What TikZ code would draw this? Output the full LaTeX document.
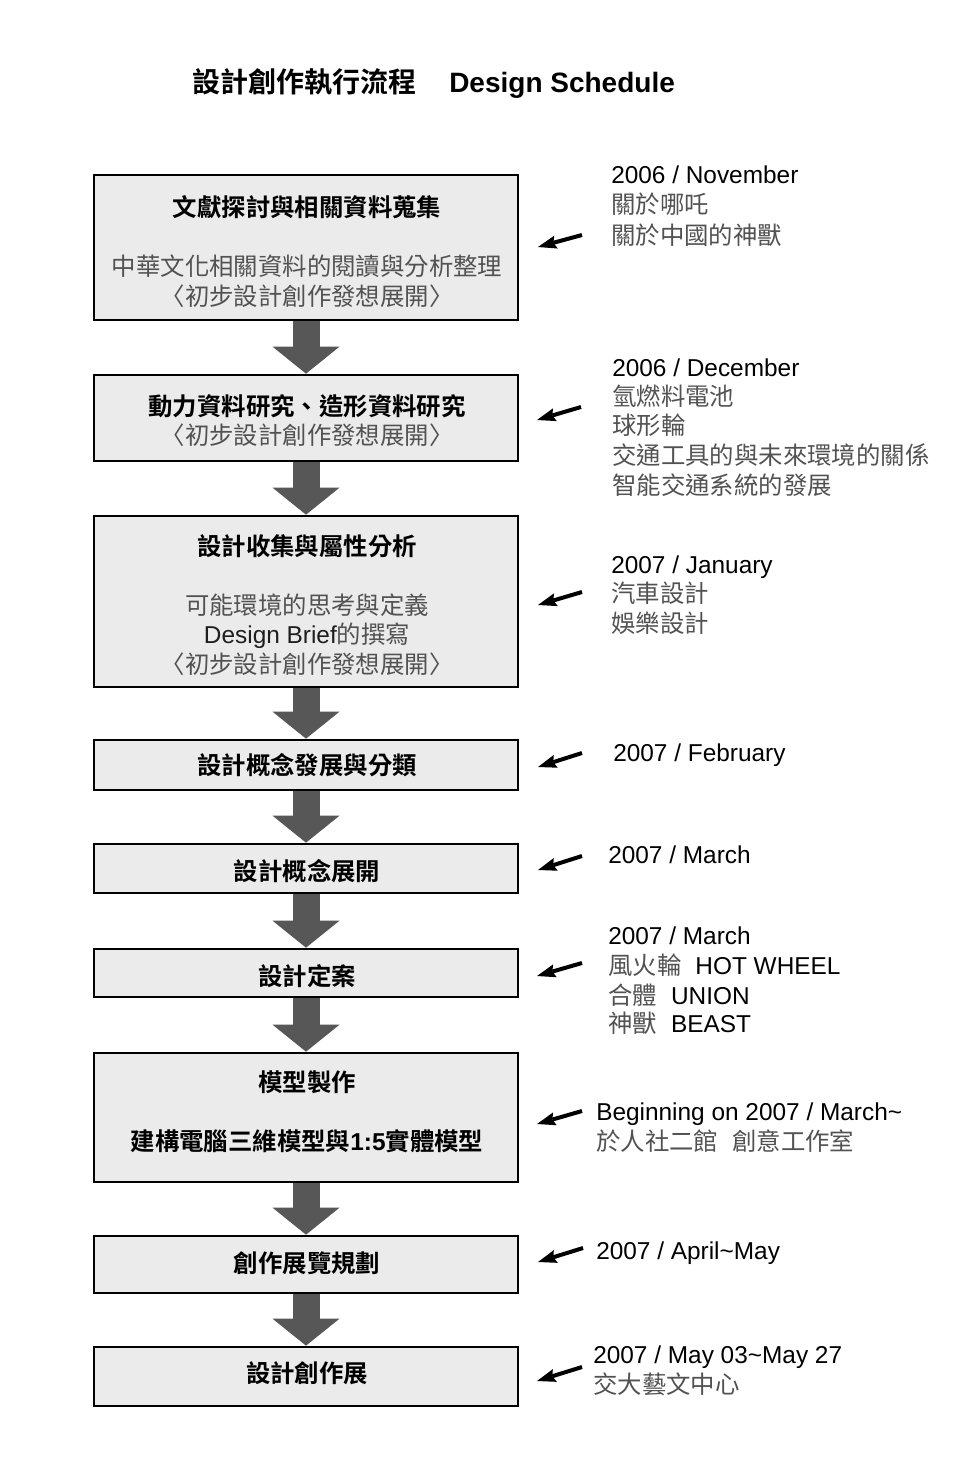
\documentclass[tikz,border=0pt]{standalone}
\usepackage{fontspec}
\setmainfont{Liberation Sans}
\newfontfamily\cjk{Noto Sans CJK TC}[BoldFont={Noto Sans CJK TC Bold}]
\usetikzlibrary{arrows.meta,backgrounds}
\definecolor{boxfill}{HTML}{EBEBEB}
\definecolor{txtgray}{HTML}{525252}
\definecolor{arrgray}{HTML}{575757}
\definecolor{darktxt}{HTML}{1E1E1E}
\newcommand\C[1]{{\cjk #1}}
\newcommand\fs{\fontsize{18.3pt}{22pt}\selectfont}
\newcommand\tfs{\fontsize{21pt}{25pt}\selectfont}
\newcommand\tl{\textasciitilde}
\begin{document}
\begin{tikzpicture}[x=0.75pt,y=-0.75pt,
  stepbox/.style={draw=black, line width=2pt, fill=boxfill, minimum width=424*0.75pt, inner sep=0pt},
  txt/.style={inner sep=0pt, font=\fs, text height=16.1pt, text depth=2.6pt},
  hd/.style={txt, font=\fs\bfseries, text=black},
  bd/.style={txt, text=txtgray},
  rt/.style={txt, anchor=west, text=black},
  rg/.style={txt, anchor=west, text=txtgray},
  ttl/.style={inner sep=0pt, anchor=west, font=\tfs\bfseries, text height=18.5pt, text depth=2.9pt, text=black},
  flow/.style={arrgray, line width=20.25pt, -{Triangle[length=20.25pt,width=50.25pt,line width=0pt]}},
  pointer/.style={black, line width=3pt, -{Stealth[length=14pt,width=10pt,inset=2pt,line width=0pt]}}]

\begin{scope}[on background layer]
  \fill[white] (0,0) rectangle (976,1466);
\end{scope}
\useasboundingbox (0,0) rectangle (976,1466);

% title
\node[ttl] (ttlc) at (192,82) {\C{設計創作執行流程}};
\node[ttl] (ttle) at (449,82) {Design Schedule};

% boxes
\node[stepbox, minimum height=145*0.75pt] (b1) at (306,247.5) {};
\node[stepbox, minimum height=86*0.75pt]  (b2) at (306,418) {};
\node[stepbox, minimum height=171*0.75pt] (b3) at (306,601.5) {};
\node[stepbox, minimum height=50*0.75pt]  (b4) at (306,765) {};
\node[stepbox, minimum height=49*0.75pt]  (b5) at (306,868.5) {};
\node[stepbox, minimum height=48*0.75pt]  (b6) at (306,973) {};
\node[stepbox, minimum height=129*0.75pt] (b7) at (306,1117.5) {};
\node[stepbox, minimum height=57*0.75pt]  (b8) at (306,1264.5) {};
\node[stepbox, minimum height=59*0.75pt]  (b9) at (306,1376.5) {};

% flow arrows
\begin{scope}[on background layer]
  \draw[flow] (b1.south) -- (b2.north);
  \draw[flow] (b2.south) -- (b3.north);
  \draw[flow] (b3.south) -- (b4.north);
  \draw[flow] (b4.south) -- (b5.north);
  \draw[flow] (b5.south) -- (b6.north);
  \draw[flow] (b6.south) -- (b7.north);
  \draw[flow] (b7.south) -- (b8.north);
  \draw[flow] (b8.south) -- (b9.north);
\end{scope}

% box texts
\node[hd] (t1a) at (307,207) {\C{文獻探討與相關資料蒐集}};
\node[bd] (t1b) at (307,266) {\C{中華文化相關資料的閱讀與分析整理}};
\node[bd] (t1c) at (307,296) {\C{〈初步設計創作發想展開〉}};
\node[hd] (t2a) at (307,406) {\C{動力資料研究、造形資料研究}};
\node[bd] (t2b) at (307,435) {\C{〈初步設計創作發想展開〉}};
\node[hd] (t3a) at (307,546) {\C{設計收集與屬性分析}};
\node[bd] (t3b) at (307,605) {\C{可能環境的思考與定義}};
\node[bd] (t3c) at (307,634) {\textcolor{darktxt}{Design Brief}\C{的撰寫}};
\node[bd] (t3d) at (307,664) {\C{〈初步設計創作發想展開〉}};
\node[hd] (t4a) at (307,765) {\C{設計概念發展與分類}};
\node[hd] (t5a) at (307,871) {\C{設計概念展開}};
\node[hd] (t6a) at (307,976) {\C{設計定案}};
\node[hd] (t7a) at (307,1082) {\C{模型製作}};
\node[hd] (t7b) at (307,1141) {\C{建構電腦三維模型與}1:5\C{實體模型}};
\node[hd] (t8a) at (307,1263) {\C{創作展覽規劃}};
\node[hd] (t9a) at (307,1373) {\C{設計創作展}};

% right-hand notes
\node[rt] (r1a) at (611,175) {2006 / November};
\node[rg] (r1b) at (611,205) {\C{關於哪吒}};
\node[rg] (r1c) at (611,235) {\C{關於中國的神獸}};

\node[rt] (r2a) at (612,367) {2006 / December};
\node[rg] (r2b) at (612,396) {\C{氫燃料電池}};
\node[rg] (r2c) at (612,425) {\C{球形輪}};
\node[rg] (r2d) at (612,455) {\C{交通工具的與未來環境的關係}};
\node[rg] (r2e) at (612,485) {\C{智能交通系統的發展}};

\node[rt] (r3a) at (611,564) {2007 / January};
\node[rg] (r3b) at (611,593) {\C{汽車設計}};
\node[rg] (r3c) at (611,623) {\C{娛樂設計}};

\node[rt] (r4a) at (613,752) {2007 / February};

\node[rt] (r5a) at (608,854) {2007 / March};

\node[rt] (r6a) at (608,935) {2007 / March};
\node[rt] (r6b) at (608,965) {\textcolor{txtgray}{\C{風火輪}}\hspace{10.5pt}HOT WHEEL};
\node[rt] (r6c) at (608,995) {\textcolor{txtgray}{\C{合體}}\hspace{10.5pt}UNION};
\node[rt] (r6d) at (608,1023) {\textcolor{txtgray}{\C{神獸}}\hspace{10.5pt}BEAST};

\node[rt] (r7a) at (596,1111) {Beginning on 2007 / March\tl};
\node[rg] (r7b) at (596,1141) {\C{於人社二館}\hspace{10.5pt}\C{創意工作室}};

\node[rt] (r8a) at (596,1250) {2007 / April\tl May};

\node[rt] (r9a) at (593,1354) {2007 / May 03\tl May 27};
\node[rg] (r9b) at (593,1384) {\C{交大藝文中心}};

% pointer arrows
\coordinate (p1s) at (582,235);  \coordinate (p1e) at (538,247);
\coordinate (p2s) at (581,407);  \coordinate (p2e) at (537,420);
\coordinate (p3s) at (582,592);  \coordinate (p3e) at (538,605);
\coordinate (p4s) at (582,753);  \coordinate (p4e) at (538,767);
\coordinate (p5s) at (582,856);  \coordinate (p5e) at (538,870);
\coordinate (p6s) at (582,963);  \coordinate (p6e) at (537,976);
\coordinate (p7s) at (582,1111); \coordinate (p7e) at (537,1124);
\coordinate (p8s) at (583,1248); \coordinate (p8e) at (538,1262);
\coordinate (p9s) at (582,1367); \coordinate (p9e) at (537,1381);
\foreach \i in {1,...,9} {\draw[pointer] (p\i s) -- (p\i e);}
\end{tikzpicture}
\end{document}
